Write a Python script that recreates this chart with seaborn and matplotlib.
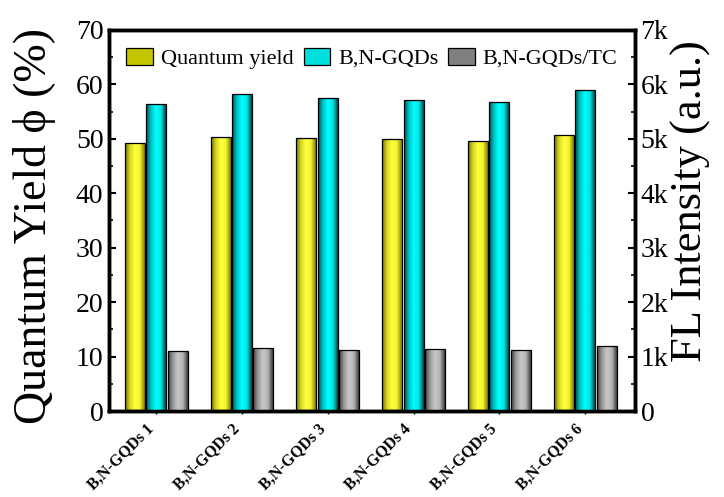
import numpy as np
import pandas as pd
import matplotlib
matplotlib.use("Agg")
import matplotlib.pyplot as plt
from matplotlib.colors import LinearSegmentedColormap
from matplotlib.patches import Patch
from matplotlib.ticker import MultipleLocator, FuncFormatter
import seaborn as sns

samples = ["B,N-GQDs 1", "B,N-GQDs 2", "B,N-GQDs 3",
           "B,N-GQDs 4", "B,N-GQDs 5", "B,N-GQDs 6"]
quantum_yield = [49.3, 50.4, 50.2, 49.9, 49.6, 50.6]          # %
fl_gqds = [5630, 5816, 5755, 5712, 5682, 5890]                 # a.u.
fl_gqds_tc = [1097, 1160, 1123, 1141, 1123, 1197]              # a.u.

series = ["Quantum yield", "B,N-GQDs", "B,N-GQDs/TC"]
legend_colors = ["#c4c400", "#00dede", "#808080"]
shades = {
    "Quantum yield": ["#6e6e00", "#d8d820", "#ffff40", "#f4f430", "#7a7a00"],
    "B,N-GQDs": ["#005050", "#00c4c4", "#00ffff", "#00e4e4", "#004444"],
    "B,N-GQDs/TC": ["#3c3c3c", "#9a9a9a", "#c8c8c8", "#b4b4b4", "#383838"],
}

sns.set_theme(style="white")
plt.rcParams["font.family"] = ["Liberation Serif", "DejaVu Serif"]
for key in ("text.color", "axes.labelcolor", "xtick.color", "ytick.color"):
    plt.rcParams[key] = "black"

df_qy = pd.DataFrame({"sample": samples, "series": series[0], "value": quantum_yield})
df_fl = pd.concat([
    pd.DataFrame({"sample": samples, "series": series[1], "value": fl_gqds}),
    pd.DataFrame({"sample": samples, "series": series[2], "value": fl_gqds_tc}),
], ignore_index=True)

fig = plt.figure(figsize=(7.24, 4.97), dpi=100)
ax = fig.add_axes([0.1506, 0.173, 0.7264, 0.767])
ax2 = ax.twinx()

bar_kw = dict(x="sample", y="value", hue="series", hue_order=series,
              order=samples, dodge=True, width=0.75, gap=0.07,
              errorbar=None, legend=False, edgecolor="black", linewidth=0.9)
sns.barplot(data=df_qy, palette=dict(zip(series, legend_colors)), ax=ax, **bar_kw)
sns.barplot(data=df_fl, palette=dict(zip(series, legend_colors)), ax=ax2, **bar_kw)


def shade_bars(axis, names):
    """Fill every bar with a horizontal cylinder-like gradient."""
    grad = np.linspace(0, 1, 256).reshape(1, -1)
    bars = [p for p in axis.patches if p.get_height() > 0]
    for p in bars:
        fc = p.get_facecolor()
        idx = int(np.argmin([np.sum(np.abs(np.array(matplotlib.colors.to_rgba(c)) - fc))
                             for c in legend_colors]))
        cmap = LinearSegmentedColormap.from_list("shade", shades[names[idx]])
        x0, w, h = p.get_x(), p.get_width(), p.get_height()
        im = axis.imshow(grad, cmap=cmap, aspect="auto", extent=(x0, x0 + w, 0, h),
                         zorder=p.get_zorder() - 0.1, interpolation="bicubic")
        im.set_clip_path(p)
        p.set_facecolor("none")


shade_bars(ax, series)
shade_bars(ax2, series)

ax.set_xlim(-0.55, 5.58)
ax.set_ylim(0, 70)
ax2.set_ylim(0, 7000)
ax.set_aspect("auto")
ax2.set_aspect("auto")

ax.yaxis.set_major_locator(MultipleLocator(10))
ax.yaxis.set_minor_locator(MultipleLocator(5))
ax2.yaxis.set_major_locator(MultipleLocator(1000))
ax2.yaxis.set_minor_locator(MultipleLocator(500))
ax2.yaxis.set_major_formatter(FuncFormatter(lambda v, _: "0" if v == 0 else f"{int(round(v / 1000))}k"))

ax.tick_params(axis="y", which="major", direction="in", length=5, width=1.5,
               labelsize=20, pad=4, left=True)
ax.tick_params(axis="y", which="minor", direction="in", length=3, width=1.2, left=True)
ax2.tick_params(axis="y", which="major", direction="in", length=5, width=1.5,
                labelsize=20, pad=4, right=True)
ax2.tick_params(axis="y", which="minor", direction="in", length=3, width=1.2, right=True)
ax.tick_params(axis="x", which="major", direction="out", length=2, width=1, bottom=True, pad=5)

ax.set_xlabel("")
ax2.set_xlabel("")
ax.set_ylabel("Quantum Yield ϕ (%)", fontsize=33, labelpad=14)
ax2.set_ylabel("FL Intensity (a.u.)", fontsize=32, labelpad=2)
ax.yaxis.label.set_y(0.485)
ax2.yaxis.label.set_y(0.55)

ax.set_xticks(range(len(samples)))
ax.set_xticklabels(samples, rotation=45, ha="right", rotation_mode="anchor",
                   fontsize=11.5, fontweight="bold")
offset = matplotlib.transforms.ScaledTranslation(-11 / 100, 0, fig.dpi_scale_trans)
for lbl in ax.get_xticklabels():
    lbl.set_transform(lbl.get_transform() + offset)

for axis in (ax, ax2):
    for s in axis.spines.values():
        s.set_linewidth(2.5)
        s.set_color("black")

handles = [Patch(facecolor=c, edgecolor="black", linewidth=0.9, label=n)
           for c, n in zip(legend_colors, series)]
ax2.legend(handles=handles, loc="upper center", bbox_to_anchor=(0.5, 1.0), ncol=3,
           frameon=False, fontsize=16, handlelength=1.2, handleheight=0.8,
           handletextpad=0.35, columnspacing=0.45, borderaxespad=0.4)

fig.savefig("out.png", dpi=100)
